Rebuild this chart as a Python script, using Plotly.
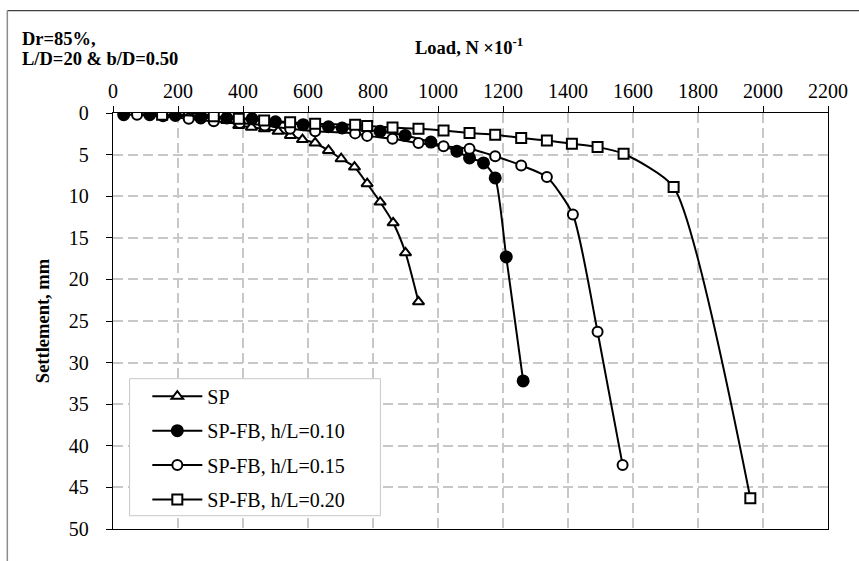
import plotly.graph_objects as go

# ---- data (load in N x10^-1, settlement in mm) ----
sp_load = [231, 272, 311, 350, 387, 426, 466, 508, 546, 583, 622, 663, 702, 743, 782, 822, 862, 900, 940]
sp_settle = [0.0, 0.1, 0.4, 0.9, 1.5, 1.7, 1.9, 2.2, 2.7, 3.2, 3.6, 4.5, 5.5, 6.5, 8.5, 10.7, 13.2, 16.8, 22.7]

fb10_load = [33, 113, 192, 270, 350, 428, 500, 585, 663, 705, 822, 899, 978, 1058, 1097, 1140, 1176, 1210, 1262]
fb10_settle = [0.2, 0.2, 0.3, 0.6, 0.6, 0.7, 1.05, 1.4, 1.65, 1.8, 2.2, 2.7, 3.5, 4.6, 5.4, 6.0, 7.8, 17.3, 32.2]

fb15_load = [74, 154, 233, 310, 390, 467, 545, 622, 745, 782, 860, 940, 1017, 1097, 1176, 1256, 1335, 1415, 1491, 1568]
fb15_settle = [0.2, 0.4, 0.7, 1.0, 1.2, 1.5, 1.9, 2.2, 2.45, 2.75, 3.1, 3.6, 4.0, 4.3, 5.2, 6.3, 7.7, 12.2, 26.3, 42.3]

fb20_load = [151, 310, 387, 465, 545, 622, 745, 782, 860, 940, 1017, 1097, 1176, 1256, 1335, 1412, 1491, 1571, 1725, 1961]
fb20_settle = [0.2, 0.4, 0.7, 0.9, 1.1, 1.3, 1.4, 1.55, 1.75, 1.9, 2.1, 2.4, 2.6, 3.0, 3.3, 3.7, 4.1, 4.9, 8.9, 46.3]

series_names = ["SP", "SP-FB, h/L=0.10", "SP-FB, h/L=0.15", "SP-FB, h/L=0.20"]
x_ticks = list(range(0, 2201, 200))
y_ticks = list(range(0, 51, 5))

FONT = "Liberation Serif, Times New Roman, serif"

fig = go.Figure()

styles = [
    (sp_load, sp_settle, "triangle-up", "white", 10),
    (fb10_load, fb10_settle, "circle", "black", 11),
    (fb15_load, fb15_settle, "circle", "white", 10),
    (fb20_load, fb20_settle, "square", "white", 10),
]
for i, (xs, ys, sym, fill, sz) in enumerate(styles):
    fig.add_trace(go.Scatter(
        x=xs, y=ys, name=series_names[i], mode="lines+markers",
        legendgroup=f"g{i}",
        line=dict(color="black", width=2, shape="spline", smoothing=0.6),
        marker=dict(symbol=sym, size=sz, color=fill, line=dict(color="black", width=2)),
    ))

fig.update_layout(
    width=859, height=561,
    margin=dict(l=113, r=31, t=113, b=32),
    paper_bgcolor="white", plot_bgcolor="white",
    font=dict(family=FONT, size=20, color="black"),
    showlegend=True,
    legend=dict(
        x=0.048, y=0.366, xanchor="left", yanchor="top",
        bgcolor="rgba(0,0,0,0)", borderwidth=0,
        font=dict(family=FONT, size=20, color="black"),
        tracegroupgap=5.4, traceorder="grouped", itemwidth=50,
    ),
    xaxis=dict(
        side="top", range=[0, 2200], tickvals=x_ticks,
        ticks="outside", ticklen=6, tickwidth=1.3, tickcolor="black",
        showline=True, linecolor="black", linewidth=1.3, mirror=True,
        showgrid=True, gridcolor="#c8c8c8", gridwidth=1.5, griddash="10px,5px",
        zeroline=False, tickfont=dict(family=FONT, size=20),
    ),
    yaxis=dict(
        range=[50, 0], tickvals=y_ticks,
        ticks="outside", ticklen=6, tickwidth=1.3, tickcolor="black",
        showline=True, linecolor="black", linewidth=1.3, mirror=True,
        showgrid=True, gridcolor="#c8c8c8", gridwidth=1.5, griddash="10px,5px",
        zeroline=False, tickfont=dict(family=FONT, size=20),
        ticklabelstandoff=13,
        title=dict(text="<b>Settlement, mm</b>", font=dict(family=FONT, size=18.5), standoff=14),
    ),
    annotations=[
        dict(text="<b>Load, N ×10<sup>-1</sup></b>", xref="paper", yref="paper",
             x=0.4983, y=1.1618, xanchor="center", yanchor="middle", showarrow=False,
             font=dict(family=FONT, size=18.5)),
        dict(text="<b>Dr=85%,</b>", xref="paper", yref="paper",
             x=-0.1306, y=1.1786, xanchor="left", yanchor="middle", showarrow=False,
             font=dict(family=FONT, size=18.5)),
        dict(text="<b>L/D=20 &amp; b/D=0.50</b>", xref="paper", yref="paper",
             x=-0.1306, y=1.1305, xanchor="left", yanchor="middle", showarrow=False,
             font=dict(family=FONT, size=18.5)),
    ],
    shapes=[
        # outer chart frame
        dict(type="line", xref="paper", yref="paper", x0=-0.1478, x1=1.2, y0=1.2459, y1=1.2459,
             line=dict(color="#404040", width=1.3)),
        dict(type="line", xref="paper", yref="paper", x0=-0.1478, x1=-0.1478, y0=1.2459, y1=-0.2,
             line=dict(color="#8c8c8c", width=1.5)),
        # legend box
        dict(type="rect", xref="paper", yref="paper", x0=0.0232, x1=0.374, y0=0.032, y1=0.3613,
             fillcolor="white", line=dict(color="#c8c8c8", width=1), layer="above"),
    ],
)

fig.write_html("out.html", config={"displayModeBar": False},
               post_script="document.body.style.margin='0';document.body.style.padding='0';")
